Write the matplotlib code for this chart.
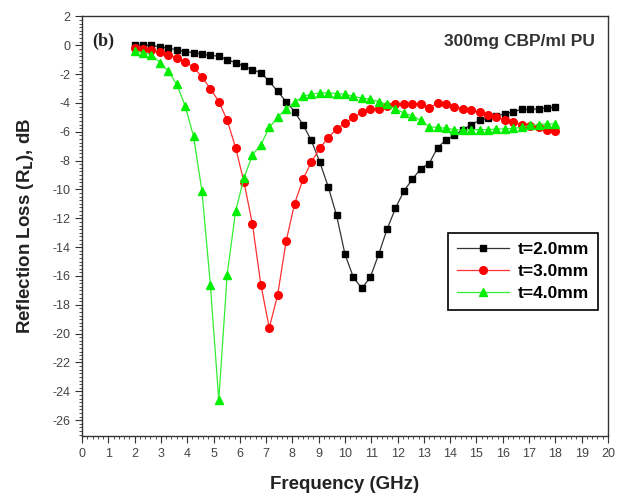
import numpy as np
import matplotlib.pyplot as plt
from matplotlib.ticker import MultipleLocator

plt.rcParams['font.family'] = ['Liberation Sans', 'DejaVu Sans']
plt.rcParams['axes.unicode_minus'] = False

# sweep 2-18 GHz, 51 points
freq = [2.00, 2.32, 2.64, 2.96, 3.28, 3.60, 3.92, 4.24, 4.56, 4.88,
        5.20, 5.52, 5.84, 6.16, 6.48, 6.80, 7.12, 7.44, 7.76, 8.08,
        8.40, 8.72, 9.04, 9.36, 9.68, 10.00, 10.32, 10.64, 10.96, 11.28,
        11.60, 11.92, 12.24, 12.56, 12.88, 13.20, 13.52, 13.84, 14.16, 14.48,
        14.80, 15.12, 15.44, 15.76, 16.08, 16.40, 16.72, 17.04, 17.36, 17.68,
        18.00]

rl_20 = [0.0, 0.0, 0.0, -0.1, -0.2, -0.3, -0.45, -0.5, -0.6, -0.7,
         -0.75, -1.0, -1.2, -1.45, -1.7, -1.9, -2.5, -3.2, -3.9, -4.6,
         -5.5, -6.6, -8.1, -9.8, -11.8, -14.5, -16.1, -16.85, -16.1, -14.5,
         -12.75, -11.3, -10.1, -9.3, -8.55, -8.2, -7.1, -6.55, -6.25, -5.85,
         -5.5, -5.2, -5.05, -4.9, -4.75, -4.6, -4.45, -4.45, -4.4, -4.35,
         -4.3]

rl_30 = [-0.17, -0.29, -0.3, -0.48, -0.64, -0.87, -1.17, -1.5, -2.2, -3.0,
         -3.9, -5.2, -7.1, -9.5, -12.4, -16.6, -19.6, -17.3, -13.6, -11.0,
         -9.3, -8.1, -7.15, -6.4, -5.8, -5.4, -5.0, -4.65, -4.45, -4.4,
         -4.2, -4.05, -4.05, -4.05, -4.1, -4.35, -4.0, -4.1, -4.25, -4.4,
         -4.5, -4.65, -4.8, -5.0, -5.15, -5.3, -5.5, -5.6, -5.7, -5.85,
         -5.95]

rl_40 = [-0.4, -0.5, -0.65, -1.2, -1.8, -2.7, -4.2, -6.3, -10.1, -16.6,
         -24.6, -15.9, -11.5, -9.2, -7.6, -6.9, -5.7, -5.0, -4.4, -3.95,
         -3.55, -3.4, -3.3, -3.3, -3.35, -3.4, -3.55, -3.65, -3.75, -3.9,
         -4.1, -4.4, -4.7, -4.9, -5.2, -5.65, -5.7, -5.75, -5.85, -5.9,
         -5.85, -5.85, -5.85, -5.8, -5.8, -5.75, -5.7, -5.55, -5.5, -5.45,
         -5.45]

fig = plt.figure(figsize=(6.2, 4.93), dpi=100)
ax = fig.add_axes([0.1323, 0.1156, 0.8483, 0.851])

ax.plot(freq, rl_20, color='#333333', lw=0.9, marker='s', ms=5,
        mfc='black', mec='black', label='t=2.0mm')
ax.plot(freq, rl_30, color='#ff3030', lw=0.9, marker='o', ms=5.5,
        mfc='#ff0000', mec='#ff0000', label='t=3.0mm')
ax.plot(freq, rl_40, color='#33ee33', lw=0.9, marker='^', ms=6,
        mfc='#00ee00', mec='#00ee00', label='t=4.0mm')

ax.set_xlim(0, 20)
ax.set_ylim(-27.1, 2)
ax.xaxis.set_major_locator(MultipleLocator(1))
ax.xaxis.set_minor_locator(MultipleLocator(0.2))
ax.yaxis.set_major_locator(MultipleLocator(2))
ax.yaxis.set_minor_locator(MultipleLocator(0.25))
ax.tick_params(which='both', direction='out', top=False, right=False,
               color='#333333', labelcolor='#444444', labelsize=9)
ax.tick_params(which='major', length=5, width=0.8)
ax.tick_params(which='minor', length=2.5, width=0.6)
for s in ax.spines.values():
    s.set_color('#333333')
    s.set_linewidth(1.0)

ax.set_xlabel('Frequency (GHz)', fontsize=13.5, fontweight='bold',
              color='#222222', labelpad=12)
ax.set_ylabel(r'Reflection Loss (R$_{\mathbf{L}}$), dB', fontsize=13.5,
              fontweight='bold', color='#222222', labelpad=12)

ax.text(0.02, 0.93, '(b)', transform=ax.transAxes, fontsize=13,
        fontweight='bold', family='Liberation Serif', color='#222222')
ax.text(0.975, 0.93, '300mg CBP/ml PU', transform=ax.transAxes,
        fontsize=12.5, fontweight='bold', color='#333333', ha='right')

leg = ax.legend(loc='upper left', bbox_to_anchor=(0.68, 0.505),
                fancybox=False, edgecolor='black', framealpha=1,
                prop={'size': 12.5, 'weight': 'bold'}, handlelength=3,
                borderpad=0.5, labelspacing=0.4, handletextpad=0.5)
leg.get_frame().set_linewidth(1.2)

plt.savefig('out.png', dpi=100)
